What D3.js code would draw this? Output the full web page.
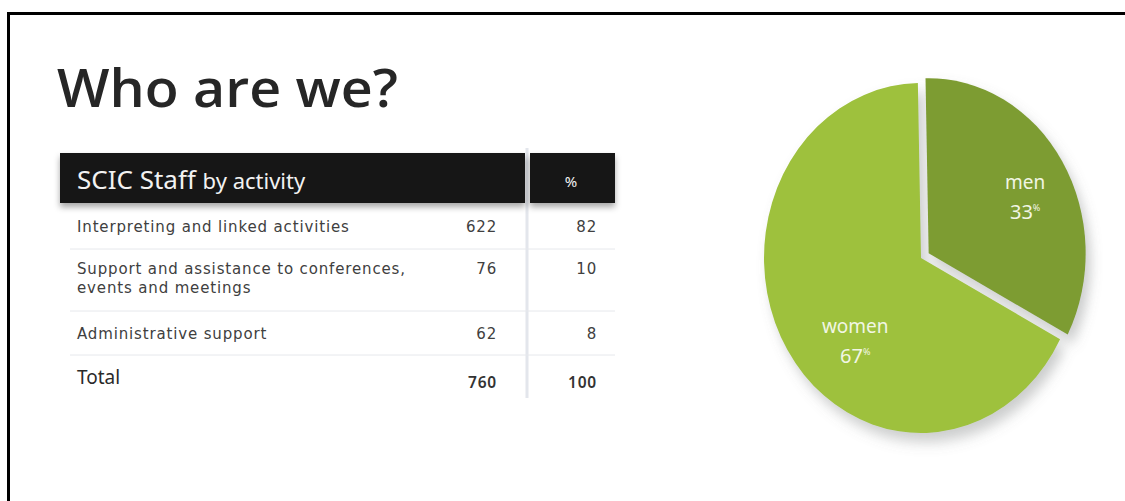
<!DOCTYPE html>
<html>
<head>
<meta charset="utf-8">
<script src="https://cdn.jsdelivr.net/npm/d3@7/dist/d3.min.js"></script>
<style>
  html, body { margin: 0; padding: 0; background: #fff; }
  svg { display: block; }
</style>
</head>
<body>
<svg id="chart" width="1125" height="501" font-family="Noto Sans, Open Sans, sans-serif"></svg>
<script>
// Staff by activity
const activities = [
  ["Interpreting and linked activities"],
  ["Support and assistance to conferences,", "events and meetings"],
  ["Administrative support"]
];
const staffCounts = [622, 76, 62];
const staffShares = [82, 10, 8];
const totalLabel = "Total";
const totalCount = 760;
const totalShare = 100;

// Staff by gender
const genders = ["men", "women"];
const genderShares = [33, 67];

const svg = d3.select("#chart");
const defs = svg.append("defs");

const headShadow = defs.append("filter").attr("id", "headShadow")
  .attr("x", "-5%").attr("y", "-20%").attr("width", "110%").attr("height", "160%");
headShadow.append("feDropShadow").attr("dx", 0).attr("dy", 4).attr("stdDeviation", 3)
  .attr("flood-color", "#000").attr("flood-opacity", 0.35);

const pieShadow = defs.append("filter").attr("id", "pieShadow")
  .attr("x", "-20%").attr("y", "-20%").attr("width", "140%").attr("height", "140%");
pieShadow.append("feDropShadow").attr("dx", 5).attr("dy", 8).attr("stdDeviation", 6)
  .attr("flood-color", "#6a7070").attr("flood-opacity", 0.35);

// frame (top and left rules)
svg.append("rect").attr("x", 7).attr("y", 12).attr("width", 1118).attr("height", 3).attr("fill", "#000");
svg.append("rect").attr("x", 7).attr("y", 12).attr("width", 3).attr("height", 489).attr("fill", "#000");

// title
svg.append("text").attr("x", 57).attr("y", 107)
  .attr("font-family", "Open Sans").attr("font-weight", 600).attr("font-size", 52).attr("fill", "#262626")
  .attr("textLength", 341).attr("lengthAdjust", "spacingAndGlyphs")
  .text("Who are we?");

// ---------- table ----------
const tableLeft = 60, tableRight = 615, colSplit = 527;
const countX = 497, shareX = 597, labelX = 77;
const rowTops = [204, 249, 311, 355];
const rowBottoms = [249, 311, 355, 400];
const bodyFont = "DejaVu Sans";

// column separator
svg.append("rect").attr("x", colSplit - 1.5).attr("y", 148).attr("width", 3).attr("height", 250)
  .attr("fill", "#e3e6ec");

// header
const head = svg.append("g").attr("filter", "url(#headShadow)");
head.append("rect").attr("x", tableLeft).attr("y", 153).attr("width", colSplit - 2 - tableLeft).attr("height", 50).attr("fill", "#121212");
head.append("rect").attr("x", colSplit + 3).attr("y", 153).attr("width", tableRight - colSplit - 3).attr("height", 50).attr("fill", "#121212");
const headText = svg.append("text").attr("x", labelX).attr("y", 189).attr("fill", "#f2f2f2");
headText.append("tspan").attr("font-size", 26).text("SCIC Staff ");
headText.append("tspan").attr("font-size", 22).text("by activity");
svg.append("text").attr("x", 571).attr("y", 187).attr("text-anchor", "middle")
  .attr("font-size", 15).attr("fill", "#f2f2f2").text("%");

// body rows
const rows = svg.append("g").attr("font-family", bodyFont).attr("fill", "#404040");
activities.forEach((lines, i) => {
  const top = rowTops[i];
  const g = rows.append("g");
  const base = top + (lines.length > 1 ? 25 : 28);
  lines.forEach((ln, j) => {
    g.append("text").attr("x", labelX).attr("y", base + j * 19)
      .attr("font-size", 15).attr("letter-spacing", 0.85).text(ln);
  });
  g.append("text").attr("x", countX).attr("y", base).attr("text-anchor", "end")
    .attr("font-size", 15).attr("letter-spacing", 0.8).text(staffCounts[i]);
  g.append("text").attr("x", shareX).attr("y", base).attr("text-anchor", "end")
    .attr("font-size", 15).attr("letter-spacing", 0.8).text(staffShares[i]);
  // row rule
  g.append("line").attr("x1", 70).attr("x2", tableRight).attr("y1", rowBottoms[i]).attr("y2", rowBottoms[i])
    .attr("stroke", "#e6e8ec").attr("stroke-width", 1);
});
svg.append("text").attr("x", labelX).attr("y", 384).attr("font-size", 19).attr("fill", "#2a2a2a").text(totalLabel);
svg.append("text").attr("x", countX).attr("y", 388).attr("text-anchor", "end")
  .attr("font-size", 15.5).attr("font-weight", 600).attr("letter-spacing", 0.8).attr("fill", "#333").text(totalCount);
svg.append("text").attr("x", shareX).attr("y", 388).attr("text-anchor", "end")
  .attr("font-size", 15.5).attr("font-weight", 600).attr("letter-spacing", 0.8).attr("fill", "#333").text(totalShare);

// ---------- pie ----------
const cx = 921, cy = 258, rx = 157, ry = 175;
const colors = d3.scaleOrdinal().domain(genders).range(["#7d9c32", "#9ec13e"]);
const pieData = d3.pie().sort(null).startAngle(-0.02).endAngle(2 * Math.PI - 0.02)
  .value(d => d.v)(genders.map((g, i) => ({ g, v: genderShares[i] })));
const arc = d3.arc().innerRadius(0).outerRadius(rx);
const explode = { men: 9, women: 0 };

const pieG = svg.append("g").attr("filter", "url(#pieShadow)")
  .attr("transform", `translate(${cx},${cy}) scale(1,${ry / rx})`);
pieG.selectAll("path").data(pieData).join("path")
  .attr("transform", d => {
    const a = (d.startAngle + d.endAngle) / 2, e = explode[d.data.g];
    return `translate(${Math.sin(a) * e},${-Math.cos(a) * e * rx / ry})`;
  })
  .attr("d", arc).attr("fill", d => colors(d.data.g));

// slice labels
const labelR = { men: 0.72, women: 0.62 };
const labelNudge = { men: [8, 1], women: [17, 22] };
pieData.forEach(d => {
  const a = (d.startAngle + d.endAngle) / 2;
  const k = labelR[d.data.g];
  const lx = cx + Math.sin(a) * rx * k + labelNudge[d.data.g][0];
  const ly = cy - Math.cos(a) * ry * k + labelNudge[d.data.g][1];
  svg.append("text").attr("x", lx).attr("y", ly - 4).attr("text-anchor", "middle")
    .attr("font-size", 19).attr("fill", "#f1f6e4").text(d.data.g);
  const t = svg.append("text").attr("x", lx).attr("y", ly + 26).attr("text-anchor", "middle")
    .attr("fill", "#f1f6e4");
  t.append("tspan").attr("font-size", 20).text(d.data.v);
  t.append("tspan").attr("font-size", 9).attr("dy", -8).text("%");
});
</script>
</body>
</html>
